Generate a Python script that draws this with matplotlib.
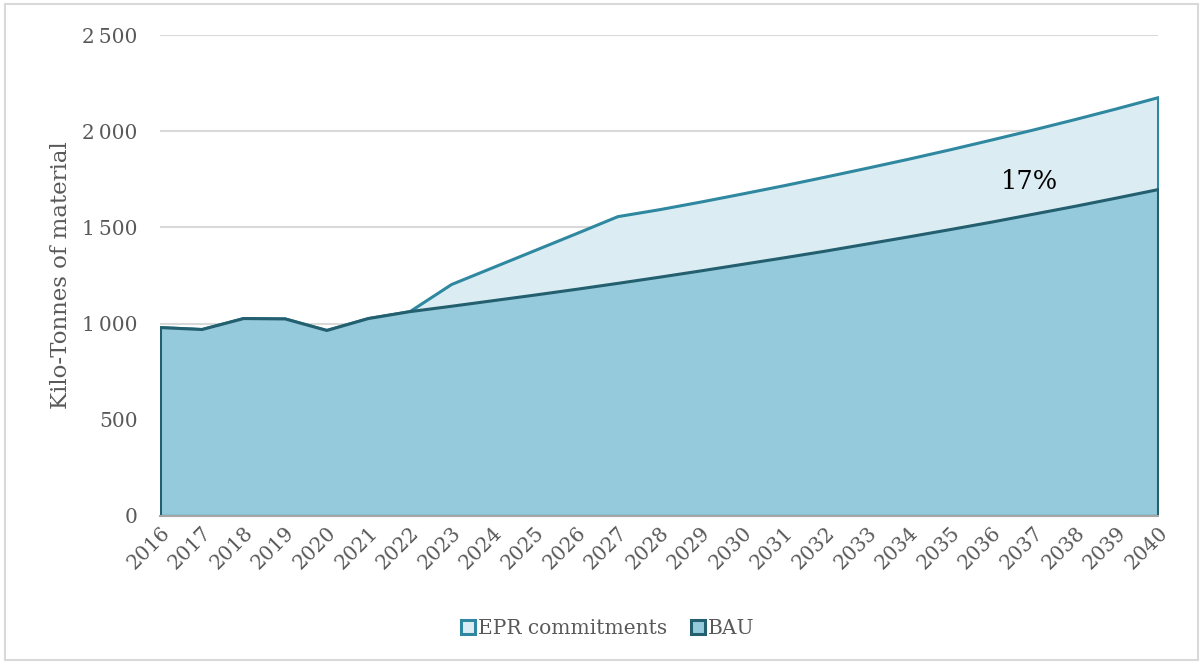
import matplotlib.pyplot as plt
from matplotlib.patches import Patch

years = list(range(2016, 2041))
bau = [982, 972, 1029, 1027, 967, 1029, 1065, 1093, 1122, 1151, 1181, 1212, 1244,
       1277, 1311, 1345, 1380, 1417, 1454, 1492, 1531, 1572, 1613, 1656, 1700]
epr = [982, 972, 1029, 1027, 967, 1029, 1065, 1206, 1294, 1382, 1470, 1559, 1595,
       1635, 1677, 1720, 1765, 1811, 1858, 1907, 1958, 2010, 2064, 2120, 2178]
yticks = [0, 500, 1000, 1500, 2000, 2500]
ytick_labels = ['0', '500', '1\u2009000', '1\u2009500', '2\u2009000', '2\u2009500']

plt.rcParams['font.family'] = ['DejaVu Serif']
grey = '#595959'

fig = plt.figure(figsize=(12.03, 6.64), dpi=100)
ax = fig.add_axes([0.133, 0.223, 0.8296, 0.724])

ax.fill_between(years, 0, epr, facecolor='#dbedf3', edgecolor='#2f88a0', lw=2.2, zorder=2)
ax.fill_between(years, 0, bau, facecolor='#94cadc', edgecolor='#235f6f', lw=2.2, zorder=3)

ax.text(2036.9, 1741, '17%', fontsize=18.5, color='black', ha='center', va='center', zorder=5)

ax.set_xlim(2016, 2040)
ax.set_ylim(0, 2500)
ax.set_yticks(yticks)
ax.set_yticklabels(ytick_labels)
ax.set_xticks(years)
ax.set_xticklabels([str(y) for y in years], rotation=45, ha='right', rotation_mode='anchor')
ax.tick_params(axis='both', length=0, labelsize=14.5, colors=grey)
ax.tick_params(axis='y', pad=16)
ax.tick_params(axis='x', pad=5)
ax.grid(axis='y', color='#d9d9d9', lw=1.5, zorder=0)
ax.set_axisbelow(True)
for s in ['top', 'right', 'left']:
    ax.spines[s].set_visible(False)
ax.spines['bottom'].set_color('#a6a6a6')
ax.spines['bottom'].set_linewidth(1.5)
ax.spines['bottom'].set_zorder(4)

ax.set_ylabel('Kilo-Tonnes of material', fontsize=16.5, color=grey)
ax.yaxis.set_label_coords(-0.088, 0.5)

handles = [Patch(facecolor='#dbedf3', edgecolor='#2f88a0', lw=2.2, label='EPR commitments'),
           Patch(facecolor='#94cadc', edgecolor='#235f6f', lw=2.2, label='BAU')]
leg = fig.legend(handles=handles, loc='center', bbox_to_anchor=(0.505, 0.053), ncol=2,
                 frameon=False, fontsize=14.5, handlelength=0.7, handleheight=0.7,
                 handletextpad=0.15, columnspacing=1.2)
for t in leg.get_texts():
    t.set_color(grey)

border = plt.Rectangle((0.004, 0.006), 0.992, 0.988, transform=fig.transFigure,
                       fill=False, edgecolor='#d9d9d9', lw=1.5)
fig.patches.append(border)

plt.savefig('out.png')
